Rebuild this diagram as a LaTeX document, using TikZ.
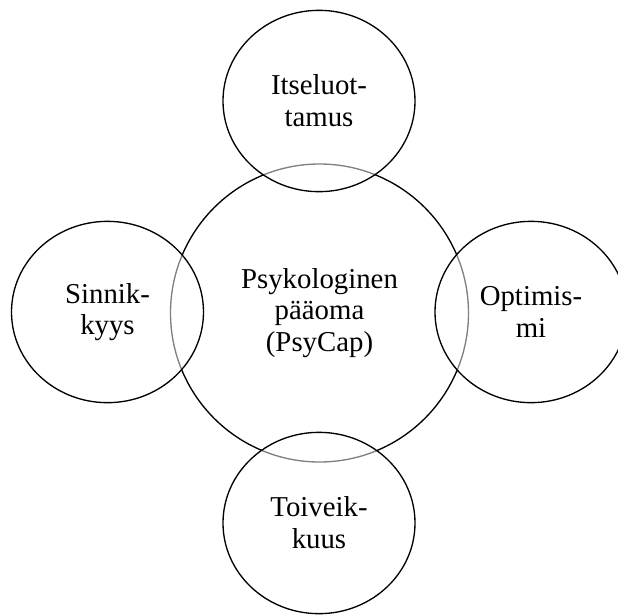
\documentclass[tikz,border=0pt]{standalone}
\usepackage{fontspec}
\setmainfont{Liberation Serif}
\usetikzlibrary{%
  shapes.geometric%
}

\tikzset{
  core/.style={draw=black,circle,minimum size=223.5pt,inner sep=0pt,
    line width=1pt,align=center,font=\fontsize{21.6}{23.8}\selectfont},
  factor/.style={draw=black,ellipse,minimum width=144pt,minimum height=136pt,
    inner sep=0pt,line width=1pt,fill=white,fill opacity=0.5,text opacity=1,
    align=center,font=\fontsize{21.6}{23.8}\selectfont}
}

\begin{document}
\begin{tikzpicture}[x=0.75pt,y=-0.75pt]
      \useasboundingbox (0,0) rectangle (618,615);
      \node [core] (psycap) at (319.5,313) {Psykologinen\\pääoma\\(PsyCap)};
      \node [factor] (itse) at (319,101) {Itseluot-\\tamus};
      \node [factor] (opti) at (531,312) {Optimis-\\mi};
      \node [factor] (sinni) at (107.5,312) {Sinnik-\\kyys};
      \node [factor] (toivo) at (319,523) {Toiveik-\\kuus};
\end{tikzpicture}
\end{document}
